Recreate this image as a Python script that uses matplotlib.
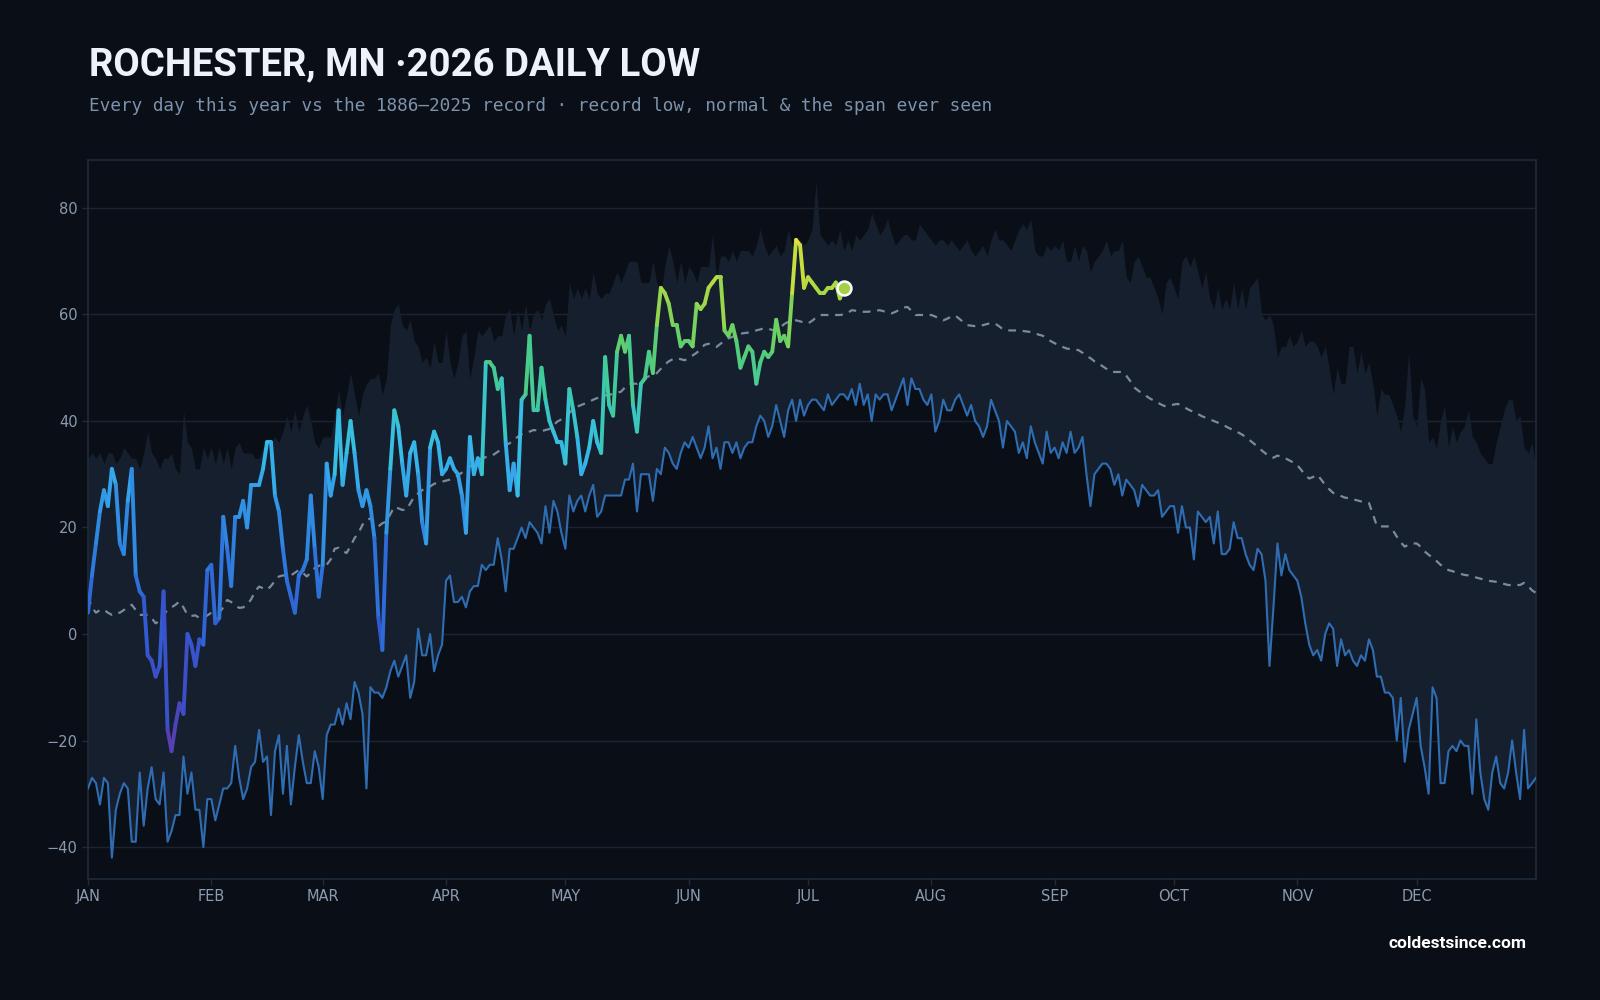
import matplotlib
matplotlib.use("Agg")
import matplotlib.pyplot as plt
import numpy as np
from matplotlib.collections import LineCollection
from matplotlib.colors import LinearSegmentedColormap, Normalize

# Data (deg F, day 0 = Jan 1)
record_high = [
    33, 34, 33, 34, 32, 34, 34, 32, 33, 35,
    34, 33, 33, 31, 34, 38, 34, 33, 31, 33,
    33, 34, 31, 30, 42, 36, 35, 31, 31, 35,
    33, 35, 32, 35, 32, 35, 31, 35, 36, 34,
    34, 34, 33, 33, 35, 35, 36, 37, 36, 38,
    41, 38, 42, 38, 41, 43, 40, 36, 35, 37,
    37, 37, 41, 46, 41, 45, 49, 45, 41, 45,
    47, 48, 48, 49, 45, 48, 58, 61, 62, 58,
    57, 59, 55, 54, 51, 52, 50, 55, 51, 51,
    57, 51, 48, 51, 56, 57, 48, 52, 57, 56,
    57, 58, 55, 56, 56, 60, 61, 56, 61, 57,
    62, 57, 60, 61, 59, 62, 63, 60, 57, 58,
    56, 66, 63, 65, 63, 65, 63, 68, 64, 63,
    64, 64, 66, 68, 66, 68, 70, 70, 70, 66,
    66, 66, 70, 66, 64, 69, 73, 70, 66, 70,
    66, 69, 68, 66, 69, 69, 69, 75, 67, 71,
    71, 70, 72, 70, 72, 72, 72, 71, 73, 76,
    73, 71, 72, 73, 71, 72, 76, 73, 72, 74,
    73, 74, 76, 85, 75, 74, 73, 74, 73, 76,
    72, 74, 72, 75, 74, 75, 76, 79, 77, 75,
    76, 78, 75, 73, 74, 75, 75, 74, 74, 77,
    76, 75, 74, 73, 74, 74, 73, 74, 73, 72,
    73, 74, 72, 71, 72, 73, 71, 74, 76, 74,
    74, 73, 72, 74, 76, 77, 76, 78, 72, 71,
    71, 73, 72, 73, 72, 74, 70, 70, 73, 70,
    73, 72, 68, 70, 71, 72, 74, 71, 72, 72,
    74, 67, 66, 70, 71, 69, 67, 67, 65, 63,
    60, 66, 67, 65, 63, 70, 71, 69, 71, 68,
    65, 68, 63, 61, 65, 61, 63, 61, 66, 61,
    65, 61, 65, 66, 67, 60, 59, 60, 58, 52,
    54, 54, 56, 54, 55, 57, 54, 55, 55, 54,
    52, 54, 50, 45, 50, 47, 47, 54, 54, 49,
    53, 49, 51, 47, 41, 46, 45, 45, 43, 41,
    38, 43, 53, 41, 39, 48, 46, 36, 37, 35,
    40, 43, 35, 39, 36, 38, 39, 42, 37, 36,
    34, 33, 32, 32, 36, 39, 42, 44, 44, 40,
    41, 35, 34, 36, 31,
]

record_low = [
    -29, -27, -28, -32, -27, -28, -42, -33, -30, -28,
    -29, -39, -39, -26, -36, -29, -25, -31, -32, -26,
    -39, -37, -34, -34, -23, -30, -26, -33, -33, -40,
    -31, -31, -35, -32, -29, -29, -28, -21, -27, -31,
    -29, -25, -24, -18, -24, -23, -34, -22, -19, -30,
    -21, -32, -25, -19, -24, -28, -28, -22, -25, -31,
    -19, -17, -17, -14, -17, -13, -16, -9, -11, -15,
    -29, -10, -11, -11, -12, -10, -7, -5, -8, -6,
    -4, -12, -9, 1, -4, -4, 0, -7, -4, -2,
    10, 11, 6, 6, 7, 5, 8, 9, 9, 13,
    12, 13, 13, 18, 14, 8, 16, 16, 18, 20,
    18, 21, 20, 19, 17, 24, 19, 25, 23, 19,
    16, 26, 23, 25, 26, 23, 26, 28, 22, 23,
    26, 26, 26, 26, 26, 29, 29, 32, 23, 30,
    30, 30, 25, 31, 30, 35, 34, 32, 31, 34,
    36, 35, 37, 35, 33, 35, 39, 33, 35, 31,
    36, 36, 34, 36, 33, 35, 36, 36, 39, 41,
    40, 37, 39, 43, 40, 37, 42, 44, 40, 44,
    41, 43, 44, 44, 43, 42, 45, 43, 44, 45,
    45, 44, 46, 43, 47, 43, 45, 40, 45, 44,
    45, 45, 42, 44, 46, 48, 43, 48, 46, 46,
    44, 43, 45, 38, 40, 44, 42, 42, 44, 45,
    43, 41, 43, 40, 39, 37, 39, 44, 42, 40,
    35, 40, 39, 38, 34, 36, 33, 39, 36, 34,
    32, 38, 34, 35, 33, 36, 34, 38, 34, 35,
    37, 30, 24, 30, 31, 32, 32, 31, 28, 30,
    26, 29, 28, 27, 24, 28, 27, 26, 26, 27,
    22, 23, 24, 24, 19, 24, 20, 20, 14, 23,
    22, 21, 22, 17, 23, 15, 15, 16, 21, 18,
    18, 15, 13, 12, 16, 15, 10, -6, 5, 17,
    11, 15, 12, 11, 10, 7, 2, -2, -4, -3,
    -5, 0, 2, 1, -6, -1, -4, -3, -5, -6,
    -4, -5, -1, -3, -8, -8, -11, -11, -12, -20,
    -12, -24, -18, -15, -12, -21, -25, -30, -10, -12,
    -28, -28, -22, -21, -22, -20, -21, -21, -30, -16,
    -26, -31, -33, -26, -23, -28, -29, -26, -20, -26,
    -31, -18, -29, -28, -27,
]

normal = [
    7, 5, 4, 4.5, 4.6, 4, 3.6, 4, 4, 4.5,
    5, 5.5, 4.5, 3.6, 3.6, 3.6, 3, 2, 2.5, 3.5,
    4.6, 5, 5.5, 6.1, 5, 3.6, 3.4, 3.5, 3, 3,
    3.5, 4, 4, 4, 5, 6.4, 6, 5.5, 4.9, 5,
    5.5, 6.5, 8, 8.9, 8.6, 8.3, 9, 10, 10.8, 11,
    11, 11, 11.5, 12, 11.5, 10.8, 11.5, 12.4, 12.8, 13,
    13, 14, 16, 16.2, 15.6, 15.2, 16.5, 18, 19, 20.5,
    21.4, 21.7, 20.5, 20.2, 20.8, 21.1, 22.5, 23.9, 23.6, 23.3,
    23.3, 24.5, 25.8, 26.4, 27, 27.5, 27.7, 28.2, 28.4, 28.6,
    28.8, 29, 29.3, 29.8, 30.3, 30.8, 31.4, 32, 32.5, 33,
    33.2, 33.3, 33.7, 34.2, 34.8, 35.5, 35.8, 36.5, 37, 37.5,
    37.7, 38, 38.3, 38.2, 38.1, 38.3, 38.5, 39.2, 39.9, 40.3,
    40.8, 41.5, 42.3, 42.7, 43, 43.3, 43.6, 44, 44.3, 44.5,
    44.8, 44.9, 45.1, 45.3, 45.5, 46.3, 47, 47, 47, 47.5,
    48, 48.4, 48.7, 49, 49.8, 50.6, 51.2, 51.6, 51.8, 51.6,
    51.4, 51.8, 52.3, 52.8, 53.5, 54.3, 54.5, 54.2, 53.9, 54.5,
    55, 55.5, 55.8, 56.2, 56.4, 56.5, 56.6, 56.7, 57, 57.2,
    57.4, 57.3, 57.1, 57, 57.5, 58.2, 58.6, 58.8, 58.9, 58.7,
    58.5, 58.3, 58.8, 59.4, 59.9, 59.9, 59.9, 59.9, 59.9, 59.9,
    60, 60.3, 60.8, 60.7, 60.6, 60.5, 60.5, 60.6, 60.7, 60.8,
    60.6, 60.4, 60.2, 60.5, 60.9, 61.3, 61.4, 60.7, 59.9, 59.9,
    59.9, 59.9, 59.9, 59.6, 59.2, 58.9, 59.2, 59.6, 59.8, 59.2,
    58.6, 58, 57.9, 57.8, 57.8, 58, 58.2, 58.4, 58.3, 57.8,
    57.2, 57, 57, 57, 57, 56.9, 56.8, 56.7, 56.5, 56.2,
    56, 55.5, 55, 54.6, 54.2, 53.9, 53.6, 53.5, 53.4, 53.3,
    52.8, 52.2, 51.8, 51.2, 50.8, 50.3, 49.8, 49.3, 49.2, 49.2,
    49.2, 48.5, 47.5, 46.3, 45.7, 45.2, 44.7, 44.2, 43.8, 43.4,
    43, 42.7, 42.9, 43.1, 43.2, 42.8, 42.4, 42, 41.7, 41.3,
    40.9, 40.6, 40.3, 40, 39.7, 39.3, 39, 38.6, 38.3, 37.9,
    37.5, 37, 36.4, 35.8, 35.2, 34.5, 33.9, 33.3, 33.1, 33.5,
    33.3, 33, 32.6, 32.2, 31.7, 30.8, 29.8, 29.2, 29.5, 29.9,
    29, 28, 27.2, 26.5, 26.2, 25.9, 25.6, 25.5, 25.3, 25.1,
    24.9, 24.7, 24.6, 22.5, 20.3, 20.2, 20.2, 20.2, 19.5, 18.3,
    17.2, 16.4, 16.8, 17, 17, 16.4, 15.5, 14.9, 14.3, 13.7,
    13, 12.5, 12, 11.8, 11.5, 11.3, 11.1, 11, 10.8, 10.6,
    10.4, 10.2, 10, 9.9, 9.8, 9.6, 9.4, 9.2, 9.2, 9.2,
    9.2, 9.6, 9, 8.2, 7.7,
]

low_2026 = [
    4, 11, 17, 23, 27, 24, 31, 28, 17, 15,
    25, 31, 11, 8, 7, -4, -5, -8, -6, 8,
    -18, -22, -17, -13, -15, 0, -2, -6, -1, -2,
    12, 13, 2, 3, 22, 16, 9, 22, 22, 25,
    20, 28, 28, 28, 31, 36, 36, 26, 23, 16,
    10, 7, 4, 11, 12, 14, 26, 16, 7, 13,
    32, 26, 30, 42, 28, 34, 40, 34, 27, 24,
    27, 24, 18, 3, -3, 19, 31, 42, 39, 32,
    26, 34, 36, 30, 21, 17, 35, 38, 36, 30,
    31, 33, 31, 30, 26, 19, 37, 30, 33, 30,
    51, 51, 50, 46, 48, 36, 27, 32, 26, 44,
    45, 56, 42, 42, 50, 44, 40, 38, 36, 36,
    32, 46, 42, 37, 30, 32, 35, 40, 36, 34,
    52, 43, 41, 53, 56, 53, 56, 43, 38, 47,
    48, 53, 49, 58, 65, 64, 62, 58, 58, 54,
    55, 55, 54, 62, 61, 62, 65, 66, 67, 67,
    57, 56, 58, 55, 50, 52, 54, 53, 47, 51,
    53, 52, 53, 59, 55, 56, 54, 64, 74, 73,
    65, 67, 66, 65, 64, 64, 65, 65, 66, 63, 65,
]

month_starts = [0, 31, 59, 90, 120, 151, 181, 212, 243, 273, 304, 334]
month_labels = ["JAN", "FEB", "MAR", "APR", "MAY", "JUN",
                "JUL", "AUG", "SEP", "OCT", "NOV", "DEC"]
y_ticks = [-40, -20, 0, 20, 40, 60, 80]

# Colours
bg = "#0a0e16"
band_c = "#161f2d"
grid_c = "#1a2434"
spine_c = "#1f2b3b"
label_c = "#8a9bb1"

days = np.arange(len(record_high))
d26 = np.arange(len(low_2026))
y26 = np.array(low_2026, dtype=float)

fig = plt.figure(figsize=(16, 10), dpi=100, facecolor=bg)
ax = fig.add_axes([0.055, 0.121, 0.905, 0.719], facecolor=bg)

# span ever seen
ax.fill_between(days, record_low, record_high, color=band_c, lw=0, zorder=1)
ax.plot(days, record_low, color="#2f6db3", lw=1.5, zorder=3)
ax.plot(days, normal, color="#7a8aa0", lw=1.6, ls=(0, (3.5, 3)), zorder=3)

# 2026 line coloured by temperature
cmap = LinearSegmentedColormap.from_list("temp", [
    (0.00, "#5a3db0"), (0.125, "#3f4cc4"), (0.23, "#3358d0"),
    (0.33, "#2e6fda"), (0.44, "#2f88e0"), (0.54, "#35a8ea"),
    (0.60, "#37bde6"), (0.66, "#38c6c4"), (0.72, "#40ca9c"),
    (0.77, "#4fcc80"), (0.82, "#6ad064"), (0.88, "#98d64c"),
    (0.94, "#c2dc40"), (1.00, "#e8e13c")])
norm = Normalize(-22, 74)
pts = np.column_stack([d26, y26]).reshape(-1, 1, 2)
segs = np.concatenate([pts[:-1], pts[1:]], axis=1)
mid = (y26[:-1] + y26[1:]) / 2
lc = LineCollection(segs, cmap=cmap, norm=norm, lw=2.8,
                    capstyle="round", joinstyle="round", zorder=4)
lc.set_array(mid)
ax.add_collection(lc)
ax.plot(d26[-1], y26[-1], "o", ms=10, mfc="#a6d043", mec="white",
        mew=1.8, zorder=5)

ax.set_xlim(0, 364)
ax.set_ylim(-46, 89)
ax.set_xticks(month_starts)
ax.set_xticklabels(month_labels)
ax.set_yticks(y_ticks)
ax.grid(axis="y", color=grid_c, lw=1.0, zorder=0)
ax.set_axisbelow(True)
for s in ax.spines.values():
    s.set_color(spine_c)
    s.set_linewidth(1.2)
ax.tick_params(colors=spine_c, labelcolor=label_c, labelsize=10.5,
               length=4, width=1)

# Texts
fig.text(0.0555, 0.925, "ROCHESTER, MN \u00b72026 DAILY LOW",
         family=["Roboto", "DejaVu Sans"], weight="bold", fontsize=27.5,
         color="#eef3fa", va="baseline")
fig.text(0.0555, 0.894,
         "Every day this year vs the 1886\u20132025 record \u00b7 record low, "
         "normal & the span ever seen",
         family=["DejaVu Sans Mono"], fontsize=12.8, color="#7d92ab",
         va="center")
fig.text(0.954, 0.056, "coldestsince.com", family=["Roboto", "DejaVu Sans"],
         weight="bold", fontsize=12.5, color="white", ha="right",
         va="center")

fig.savefig("out.png", dpi=100, facecolor=bg)
